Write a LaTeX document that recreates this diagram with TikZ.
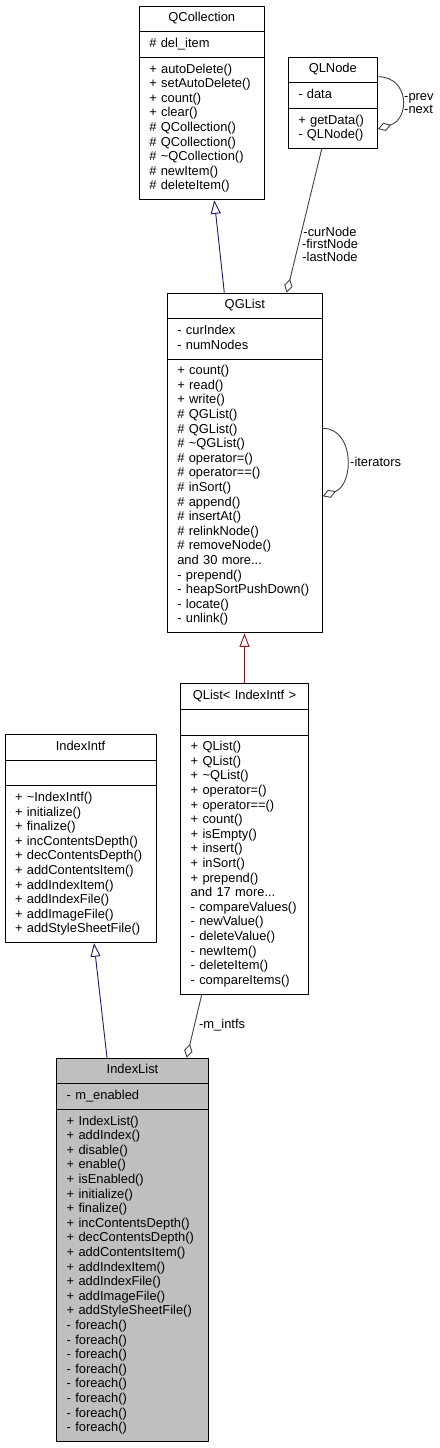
\documentclass[tikz,border=0pt]{standalone}
\usepackage{fontspec}
\setmainfont{Liberation Sans}
\usetikzlibrary{shapes.multipart,arrows.meta}
\definecolor{inhblue}{HTML}{191970}
\definecolor{inhred}{HTML}{8B1A1A}
\definecolor{aggrgray}{HTML}{404040}
\definecolor{selgray}{HTML}{BFBFBF}
\setlength{\parindent}{0pt}
\newcommand{\ctitle}[1]{\makebox[\hsize]{\strut #1}}
\begin{document}
\begin{tikzpicture}[x=1pt, y=-1pt, line join=round,
	cls/.style={draw, line width=1pt, fill=white, rectangle split, rectangle split parts=3,
		inner xsep=10pt, inner ysep=5pt, align=left, anchor=north,
		font=\fontsize{12.9pt}{14.6pt}\selectfont},
	lbl/.style={inner sep=0pt, font=\fontsize{12.9pt}{12.6pt}\selectfont},
	inherit/.style={line width=0.9pt, -{Triangle[open, length=13.5pt, width=10pt]}},
	aggr/.style={draw=aggrgray, line width=0.9pt, -{Diamond[open, length=14pt, width=8.5pt]}}]
	\useasboundingbox (0,0) rectangle (439,1448);
	% classes
	\node[cls, text width=105pt] (qcoll) at (201.8,5.7) {\ctitle{QCollection}
		\nodepart{two}\strut\# del\_item\strut
		\nodepart{three}\strut + autoDelete()\\+ setAutoDelete()\\+ count()\\+ clear()\\
		\# QCollection()\\\# QCollection()\\\# \textasciitilde QCollection()\\\# newItem()\\\# deleteItem()\strut};
	\node[cls, text width=69pt] (qln) at (332.8,56.7) {\ctitle{QLNode}
		\nodepart{two}\strut - data\strut
		\nodepart{three}\strut + getData()\\- QLNode()\strut};
	\node[cls, text width=135pt] (qgl) at (244.8,292.7) {\ctitle{QGList}
		\nodepart{two}\strut - curIndex\\- numNodes\strut
		\nodepart{three}\strut + count()\\+ read()\\+ write()\\\# QGList()\\\# QGList()\\
		\# \textasciitilde QGList()\\\# operator=()\\\# operator==()\\\# inSort()\\\# append()\\
		\# insertAt()\\\# relinkNode()\\\# removeNode()\\and 30 more...\\- prepend()\\
		- heapSortPushDown()\\- locate()\\- unlink()\strut};
	\node[cls, text width=107.6pt] (qlist) at (244.5,683.3) {\ctitle{QList< IndexIntf >}
		\nodepart{two}\strut
		\nodepart{three}\strut + QList()\\+ QList()\\+ \textasciitilde QList()\\+ operator=()\\
		+ operator==()\\+ count()\\+ isEmpty()\\+ insert()\\+ inSort()\\+ prepend()\\
		and 17 more...\\- compareValues()\\- newValue()\\- deleteValue()\\- newItem()\\
		- deleteItem()\\- compareItems()\strut};
	\node[cls, text width=131pt] (intf) at (80.5,734) {\ctitle{IndexIntf}
		\nodepart{two}\strut
		\nodepart{three}\strut + \textasciitilde IndexIntf()\\+ initialize()\\+ finalize()\\
		+ incContentsDepth()\\+ decContentsDepth()\\+ addContentsItem()\\+ addIndexItem()\\
		+ addIndexFile()\\+ addImageFile()\\+ addStyleSheetFile()\strut};
	\node[cls, fill=selgray, text width=131.6pt] (ilist) at (132.5,1057.7) {\ctitle{IndexList}
		\nodepart{two}\strut - m\_enabled\strut
		\nodepart{three}\strut + IndexList()\\+ addIndex()\\+ disable()\\+ enable()\\+ isEnabled()\\
		+ initialize()\\+ finalize()\\+ incContentsDepth()\\+ decContentsDepth()\\
		+ addContentsItem()\\+ addIndexItem()\\+ addIndexFile()\\+ addImageFile()\\
		+ addStyleSheetFile()\\- foreach()\\- foreach()\\- foreach()\\- foreach()\\
		- foreach()\\- foreach()\\- foreach()\\- foreach()\strut};
	% inheritance
	\draw[inherit, draw=inhblue] ([xshift=-20.5pt]qgl.north) -- ([xshift=12.5pt]qcoll.south);
	\draw[inherit, draw=inhred] (qlist.north) -- (qlist.north |- qgl.south);
	\draw[inherit, draw=inhblue] ([xshift=-25.5pt]ilist.north) -- ([xshift=13.5pt]intf.south);
	% usage
	\draw[aggr] ([xshift=-11.1pt]qln.south) -- ([xshift=41.9pt]qgl.north);
	\draw[aggr] ([yshift=-20pt]qln.north east) .. controls +(32,0) and +(32,-10) .. ([yshift=-72.3pt]qln.north east);
	\draw[aggr] ([yshift=-135.6pt]qgl.north east) .. controls +(31.6,0) and +(31.6,-12) .. ([yshift=-203.6pt]qgl.north east);
	\draw[aggr] ([xshift=-42.8pt]qlist.south) -- ([xshift=54.2pt]ilist.north);
	\node[lbl, align=center] (lnodes) at (330,244.3) {-curNode\\-firstNode\\-lastNode};
	\node[lbl, align=left, anchor=west] (lprev) at (404,103.3) {-prev\\-next};
	\node[lbl, anchor=west] (liter) at (350,461.7) {-iterators};
	\node[lbl, anchor=west] (lintfs) at (199,1025) {-m\_intfs};
\end{tikzpicture}
\end{document}
